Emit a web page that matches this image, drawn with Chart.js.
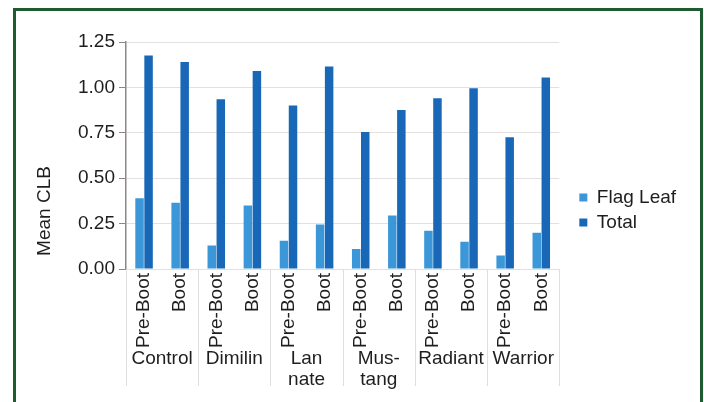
<!DOCTYPE html>
<html>
<head>
<meta charset="utf-8">
<script src="https://cdn.jsdelivr.net/npm/chart.js@4.4.0/dist/chart.umd.min.js"></script>
<style>
  html, body { margin: 0; padding: 0; background: #fff; }
  #wrap { position: relative; width: 704px; height: 402px; overflow: hidden; }
  #frame { position: absolute; left: 13px; top: 8px; width: 684px; height: 420px; border: 3px solid #1e5b31; }
  #chart { position: absolute; left: 0; top: 0; }
</style>
</head>
<body>
<div id="wrap">
  <div id="frame"></div>
  <canvas id="chart" width="704" height="402"></canvas>
</div>
<script>
// sub categories (one per bar pair) and the treatment groups under them
const subLabels = ['Pre-Boot', 'Boot', 'Pre-Boot', 'Boot', 'Pre-Boot', 'Boot',
                   'Pre-Boot', 'Boot', 'Pre-Boot', 'Boot', 'Pre-Boot', 'Boot'];
const groupLabels = [['Control'], ['Dimilin'], ['Lan', 'nate'], ['Mus-', 'tang'], ['Radiant'], ['Warrior']];

const flagLeaf = [0.39, 0.365, 0.13, 0.35, 0.155, 0.245, 0.11, 0.295, 0.21, 0.15, 0.075, 0.20];
const total    = [1.175, 1.14, 0.935, 1.09, 0.90, 1.115, 0.755, 0.875, 0.94, 0.995, 0.725, 1.055];

const yMin = 0, yMax = 1.25, yStep = 0.25;
const yTitle = 'Mean CLB';

const FONT = "'Liberation Sans', Arial, sans-serif";
const TEXT = '#1e1e1e';
const SIZE = 19;

// separators between treatment groups and the y title centred on plot + labels
const groupLines = {
    id: 'groupLines',
    afterDraw(chart) {
        const x = chart.scales.x;
        const c = chart.ctx;
        const top = chart.chartArea.bottom;
        const bottom = chart.scales.x2.top + 38;
        c.save();
        c.strokeStyle = '#e2dddd';
        c.lineWidth = 1;
        for (let i = 0; i <= subLabels.length; i += 2) {
            const px = Math.round(x.getPixelForValue(i - 0.5)) + 0.5;
            c.beginPath();
            c.moveTo(px, top);
            c.lineTo(px, bottom);
            c.stroke();
        }
        // axis title
        c.translate(45, (chart.chartArea.top + bottom) / 2 - 3);
        c.rotate(-Math.PI / 2);
        c.fillStyle = TEXT;
        c.font = SIZE + 'px ' + FONT;
        c.textAlign = 'center';
        c.textBaseline = 'middle';
        c.fillText(yTitle, 0, 0);
        c.restore();
    }
};

const ctx = document.getElementById('chart').getContext('2d');
new Chart(ctx, {
    type: 'bar',
    data: {
        labels: subLabels,
        datasets: [
            {
                label: 'Flag Leaf',
                data: flagLeaf,
                backgroundColor: '#3b97d7',
                categoryPercentage: 0.5,
                barPercentage: 0.94
            },
            {
                label: 'Total',
                data: total,
                backgroundColor: '#1868b7',
                categoryPercentage: 0.5,
                barPercentage: 0.94
            }
        ]
    },
    options: {
        responsive: false,
        animation: false,
        layout: {
            padding: { top: 42, left: 30, right: 22, bottom: 4 }
        },
        plugins: {
            legend: {
                position: 'right',
                align: 'start',
                // empty title only pushes the items down
                title: {
                    display: true,
                    text: '',
                    font: { size: 10 },
                    padding: { top: 128, bottom: 0 }
                },
                labels: {
                    boxWidth: 8,
                    boxHeight: 8,
                    padding: 6,
                    color: TEXT,
                    font: { family: FONT, size: SIZE }
                }
            },
            tooltip: { enabled: false }
        },
        scales: {
            x: {
                type: 'category',
                afterFit: (scale) => { scale.height = 79; },
                grid: { display: false, drawTicks: false },
                border: { display: false },
                ticks: {
                    autoSkip: false,
                    minRotation: 90,
                    maxRotation: 90,
                    padding: 4,
                    color: TEXT,
                    font: { family: FONT, size: SIZE }
                }
            },
            x2: {
                type: 'category',
                labels: groupLabels,
                position: 'bottom',
                offset: true,
                afterFit: (scale) => { scale.height = 50; },
                grid: { display: false, drawTicks: false },
                border: { display: false },
                ticks: {
                    autoSkip: false,
                    maxRotation: 0,
                    padding: 0,
                    color: TEXT,
                    font: { family: FONT, size: SIZE, lineHeight: 1.12 }
                }
            },
            y: {
                min: yMin,
                max: yMax,
                afterFit: (scale) => { scale.width = 96; },
                ticks: {
                    stepSize: yStep,
                    padding: 4,
                    color: TEXT,
                    font: { family: FONT, size: SIZE },
                    callback: (v) => Number(v).toFixed(2)
                },
                grid: {
                    color: '#e4e0e0',
                    tickColor: '#8f8585',
                    tickLength: 7
                },
                border: { color: '#8f8585', width: 1.5 }
            },
            gap: {
                type: 'linear',
                position: 'right',
                display: true,
                ticks: { display: false },
                grid: { display: false },
                border: { display: false },
                afterFit: (scale) => { scale.width = 14; }
            }
        }
    },
    plugins: [groupLines]
});
</script>
</body>
</html>
